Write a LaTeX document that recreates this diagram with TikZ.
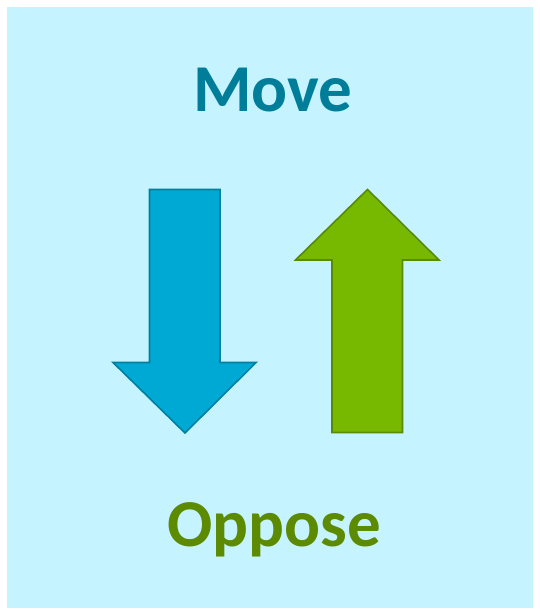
\documentclass[tikz,border=0pt]{standalone}
\usepackage{fontspec}
\setmainfont{Carlito}
\definecolor{bgcyan}{HTML}{C5F3FF}
\definecolor{movefill}{HTML}{00A9D4}
\definecolor{moveline}{HTML}{00809E}
\definecolor{movetext}{HTML}{007E99}
\definecolor{oppfill}{HTML}{76B900}
\definecolor{oppline}{HTML}{5A8A00}
\definecolor{opptext}{HTML}{5C8A00}
\begin{document}
\begin{tikzpicture}[x=1pt,y=-1pt,line join=miter]
		\useasboundingbox (0,0) rectangle (539,610);
		\fill[bgcyan] (7,7) rectangle (533,608);
		% down arrow
		\filldraw[fill=movefill,draw=moveline,line width=1.6pt]
		(149.5,189.5)--(220,189.5)--(220,362.5)--(256,362.5)--(185,433)
		--(113,362.5)--(149.5,362.5)--cycle;
		% up arrow
		\filldraw[fill=oppfill,draw=oppline,line width=1.6pt]
		(367.5,189.5)--(439,260)--(402.5,260)--(402.5,432.5)--(332,432.5)
		--(332,260)--(295.5,260)--cycle;
		\node[anchor=base,text=movetext,font=\bfseries\fontsize{67}{67}\selectfont,inner sep=0pt] (move) at (273,111) {Move};
		\node[anchor=base,text=opptext,font=\bfseries\fontsize{67}{67}\selectfont,inner sep=0pt] (oppose) at (274.5,546) {Oppose};
	\end{tikzpicture}
\end{document}
